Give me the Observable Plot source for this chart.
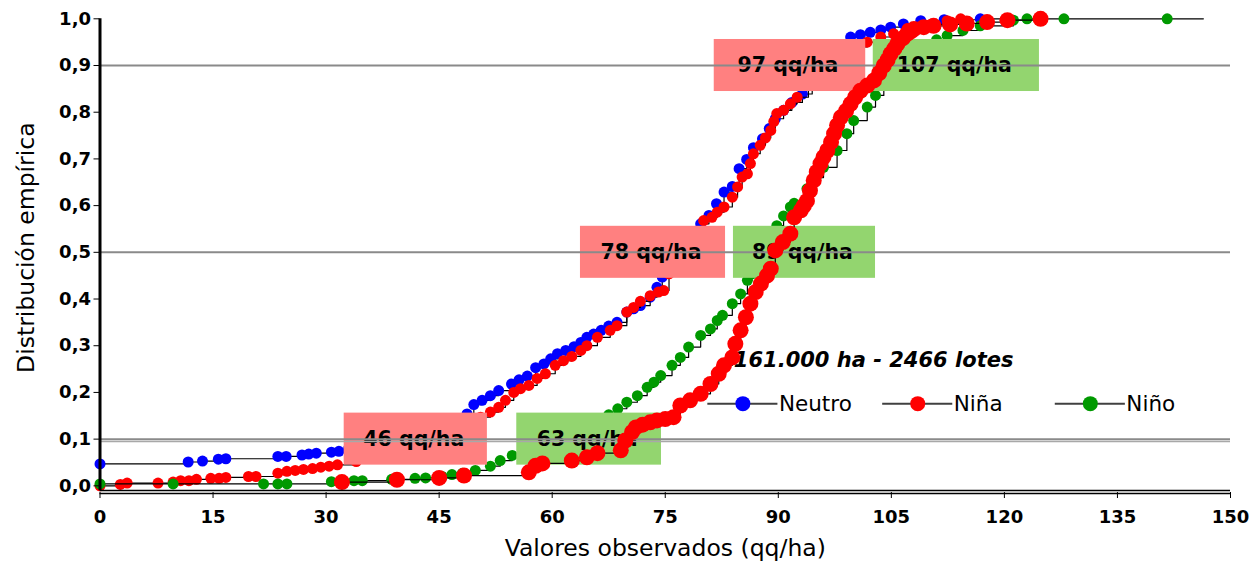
<!DOCTYPE html>
<html>
<head>
<meta charset="utf-8">
<script src="https://cdn.jsdelivr.net/npm/d3@7"></script>
<script src="https://cdn.jsdelivr.net/npm/@observablehq/plot@0.6"></script>
<style>
  html, body { margin: 0; padding: 0; background: #ffffff; }
  #chart { width: 1254px; height: 565px; }
</style>
</head>
<body>
<div id="chart"></div>
<script>
// ---- Data ----
const xTicks = [0, 15, 30, 45, 60, 75, 90, 105, 120, 135, 150];
const yTicks = [0, 0.1, 0.2, 0.3, 0.4, 0.5, 0.6, 0.7, 0.8, 0.9, 1.0];
const quantileLines = [0.1, 0.5, 0.9];

const seriesNames = ["Neutro", "Niña", "Niño"];
const seriesColors = ["#0000ff", "#ff0000", "#009900"];

// Neutro: [valor observado (qq/ha), distribución empírica]
const neutro = [[0,0.047],[11.7,0.051],[13.6,0.053],[15.7,0.057],[16.7,0.058],[23.6,0.063],[24.7,0.063],[26.8,0.066],[27.7,0.068],[28.7,0.070],[30.7,0.072],[31.7,0.074],[33,0.08],[35,0.087],[37,0.094],[39,0.102],[41,0.11],[43,0.12],[45,0.13],[47,0.143],[48.7,0.154],[49.6,0.174],[50.7,0.183],[51.8,0.193],[52.9,0.204],[54.6,0.218],[55.6,0.227],[56.7,0.235],[57.8,0.253],[58.9,0.261],[59.8,0.272],[60.7,0.283],[61.8,0.290],[62.9,0.298],[63.8,0.307],[64.6,0.318],[65.5,0.325],[66.5,0.333],[67.5,0.342],[68.6,0.350],[69.9,0.372],[70.8,0.379],[71.7,0.386],[73.0,0.404],[73.9,0.425],[74.6,0.447],[75.5,0.46],[76.5,0.48],[77.5,0.5],[78.5,0.525],[79.7,0.561],[80.8,0.579],[81.8,0.604],[82.8,0.629],[83.9,0.641],[84.8,0.679],[85.8,0.699],[86.7,0.724],[87.9,0.743],[88.8,0.765],[89.6,0.786],[90.7,0.804],[91.8,0.821],[93.2,0.839],[94.5,0.865],[96,0.895],[97.5,0.92],[98.5,0.94],[99.6,0.961],[100.9,0.966],[102.2,0.971],[103.6,0.976],[104.9,0.982],[106.6,0.989],[108.9,0.996],[112,0.998],[116.8,1.0],[120.4,1.0]];

// Niña (curva junto a Neutro)
const ninaA = [[0,0],[2.7,0.003],[3.6,0.006],[7.7,0.006],[9.7,0.008],[10.7,0.011],[11.8,0.011],[12.8,0.014],[14.7,0.016],[15.8,0.016],[16.7,0.018],[19.7,0.02],[20.7,0.02],[23.6,0.027],[24.8,0.031],[25.9,0.033],[27,0.035],[28.2,0.037],[29.3,0.04],[30.4,0.042],[31.5,0.045],[34,0.052],[37,0.062],[40,0.075],[43,0.088],[46,0.1],[48,0.12],[49.3,0.135],[50.5,0.147],[51.8,0.158],[52.9,0.168],[53.8,0.183],[54.9,0.2],[55.8,0.208],[56.9,0.215],[58,0.23],[59.1,0.24],[60.4,0.258],[61.5,0.268],[62.6,0.277],[63.8,0.29],[64.6,0.3],[66,0.318],[67.7,0.333],[68.6,0.343],[69.9,0.372],[70.8,0.382],[71.7,0.395],[73,0.407],[74.1,0.415],[74.8,0.418],[75.5,0.454],[76.5,0.47],[77.5,0.49],[78.5,0.51],[79.3,0.54],[80.1,0.568],[81.2,0.575],[81.9,0.586],[82.8,0.597],[83.9,0.618],[84.6,0.64],[85.2,0.661],[85.9,0.668],[86.3,0.69],[86.7,0.711],[87.6,0.729],[88.3,0.745],[89,0.761],[89.4,0.78],[89.8,0.797],[90.7,0.804],[91.6,0.818],[92.5,0.832],[94,0.86],[95.5,0.885],[97,0.9],[98.5,0.92],[100,0.94],[101.8,0.95],[103.6,0.961],[105.3,0.968],[107.1,0.979],[110.2,0.988],[112.4,0.996],[114.2,1.0]];

// Niño
const nino = [[0,0.004],[9.7,0.004],[21.7,0.004],[23.6,0.004],[24.8,0.004],[30.7,0.009],[33.7,0.011],[34.8,0.011],[38.7,0.014],[41.8,0.016],[43.2,0.017],[45.4,0.02],[46.7,0.024],[48.1,0.027],[49.8,0.033],[51.8,0.042],[53.1,0.054],[54.7,0.065],[57,0.072],[59,0.08],[61,0.09],[63,0.1],[65,0.12],[66.5,0.14],[67.5,0.152],[68.7,0.165],[69.9,0.179],[71.3,0.193],[72.6,0.211],[73.5,0.222],[74.4,0.236],[75.9,0.258],[77,0.275],[78.1,0.297],[79.7,0.322],[81,0.336],[81.9,0.354],[82.6,0.365],[83.9,0.39],[85,0.411],[85.9,0.44],[86.5,0.454],[87.5,0.475],[88.5,0.5],[89.8,0.557],[90.7,0.578],[91.6,0.597],[92.1,0.605],[93.8,0.636],[95,0.66],[96,0.682],[97.8,0.718],[99.1,0.754],[100,0.782],[101.8,0.811],[102.9,0.836],[104,0.865],[105.5,0.9],[107,0.92],[109,0.94],[111,0.955],[112.4,0.964],[114.5,0.975],[116.8,0.985],[121.2,0.997],[123,1.0],[127.9,1.0],[141.6,1.0]];
const ninoStepEnd = 146.4; // the Niño step line runs on past its last point

// Niña (curva junto a Niño)
const ninaB = [[32.1,0.008],[39.4,0.013],[45,0.017],[48.3,0.022],[56.9,0.029],[57.8,0.043],[58.7,0.048],[62.6,0.054],[64.6,0.061],[66,0.07],[69.1,0.076],[69.7,0.097],[70.6,0.115],[71.1,0.125],[72,0.131],[73,0.136],[73.9,0.14],[75,0.143],[76.1,0.147],[77,0.172],[78.3,0.183],[79.7,0.197],[81,0.218],[82.1,0.24],[82.8,0.258],[83.9,0.275],[84.3,0.304],[85,0.333],[85.7,0.361],[86.3,0.39],[87,0.415],[87.7,0.433],[88.5,0.45],[89,0.465],[89.6,0.504],[90.6,0.522],[91.6,0.54],[92.1,0.575],[93,0.59],[93.4,0.6],[93.8,0.61],[94.2,0.632],[94.7,0.654],[95.1,0.672],[95.6,0.69],[96,0.704],[96.5,0.718],[97,0.736],[97.4,0.754],[97.8,0.772],[98.3,0.789],[99,0.803],[99.6,0.818],[100.2,0.832],[100.9,0.846],[101.8,0.857],[102.7,0.868],[103.4,0.884],[104,0.9],[104.5,0.912],[104.9,0.925],[105.4,0.936],[105.8,0.946],[106.5,0.958],[107.1,0.968],[107.6,0.973],[108,0.978],[109.3,0.982],[110.6,0.985],[112.8,0.988],[115,0.99],[117.7,0.993],[120.4,0.997],[124.8,1.0]];

// Quantile labels
const labelsNina = [["46 qq/ha", 0.1], ["78 qq/ha", 0.5], ["97 qq/ha", 0.9]];
const labelsNino = [["63 qq/ha", 0.1], ["89 qq/ha", 0.5], ["107 qq/ha", 0.9]];
const note = "161.000 ha - 2466 lotes";
const xTitle = "Valores observados (qq/ha)";
const yTitle = "Distribución empírica";

// ---- Layout (placement of annotation boxes, legend) ----
const boxSpanNina = [[32.4, 51.4], [63.75, 83.0], [81.5, 101.6]];
const boxSpanNino = [[55.3, 74.5], [84.05, 102.9], [102.6, 124.65]];
const boxHalfH = 0.0557;
const legendX = [85.3, 108.5, 131.4];
const legendHalfW = 4.65;
const legendY = 0.176;
const noteX = 84.1, noteY = 0.268;

const FONT = "'DejaVu Sans', sans-serif";
const fmt = d => d.toFixed(1).replace(".", ",");
const toObj = (arr) => arr.map(([x, p]) => ({x, p}));

const boxes = (labels, spans) => labels.map(([t, q], i) => ({
  t, q, x1: spans[i][0], x2: spans[i][1], y1: q - boxHalfH, y2: q + boxHalfH
}));
const boxesA = boxes(labelsNina, boxSpanNina);
const boxesB = boxes(labelsNino, boxSpanNino);
const legend = seriesNames.map((name, i) => ({name, color: seriesColors[i], x: legendX[i]}));

const seriesMarks = (data, color, r, stepEnd) => {
  const pts = toObj(data);
  const linePts = stepEnd != null ? [...pts, {x: stepEnd, p: pts[pts.length - 1].p}] : pts;
  return [
    Plot.line(linePts, {x: "x", y: "p", curve: "step-after", stroke: "#000", strokeWidth: 1.2}),
    Plot.dot(pts, {x: "x", y: "p", r, fill: color, stroke: "none"})
  ];
};

const chart = Plot.plot({
  width: 1254, height: 565,
  marginLeft: 99.5, marginRight: 24, marginTop: 18.3, marginBottom: 75,
  x: {domain: [0, 150]},
  y: {domain: [-0.01, 1]},
  style: {fontFamily: FONT, background: "#ffffff", color: "#000"},
  marks: [
    Plot.text([note], {x: noteX, y: noteY, text: d => d, textAnchor: "start", fontSize: 21, fontWeight: "bold", fontStyle: "italic", fontFamily: FONT}),
    ...seriesMarks(neutro, seriesColors[0], 5.5),
    ...seriesMarks(ninaA, seriesColors[1], 5.5),
    ...seriesMarks(nino, seriesColors[2], 5.5, ninoStepEnd),
    Plot.rect(boxesA, {x1: "x1", x2: "x2", y1: "y1", y2: "y2", fill: "#ff8080"}),
    Plot.rect(boxesB, {x1: "x1", x2: "x2", y1: "y1", y2: "y2", fill: "#93d56f"}),
    Plot.text([...boxesA, ...boxesB], {x: d => (d.x1 + d.x2) / 2, y: "q", text: "t", dx: -2, fontSize: 20.5, fontWeight: "bold", fontFamily: FONT, fill: "#000", lineAnchor: "middle"}),
    Plot.ruleY(quantileLines, {x1: 0, x2: 150, stroke: "#8a8a8a", strokeWidth: 2}),
    Plot.ruleY([0.095], {x1: 0, x2: 150, stroke: "#a8a8a8", strokeWidth: 1.5}),
    ...seriesMarks(ninaB, seriesColors[1], 8),
    // axes
    Plot.ruleX([0], {y1: -0.01, y2: 1, stroke: "#000", strokeWidth: 3}),
    Plot.ruleY([-0.01, -0.0165], {x1: 0, x2: 150, stroke: "#000", strokeWidth: 1.6}),
    Plot.axisY({ticks: yTicks, tickFormat: fmt, tickSize: 6, tickPadding: 3, fontSize: 18, fontWeight: "bold", fontFamily: FONT, label: null}),
    Plot.axisX({ticks: xTicks, tickFormat: d => String(d), tickSize: 6, tickPadding: 12, fontSize: 18, fontWeight: "bold", fontFamily: FONT, label: null, dy: 2}),
    Plot.text([xTitle], {frameAnchor: "bottom", dy: 58, text: d => d, fontSize: 23.5, fontFamily: FONT, textAnchor: "middle", lineAnchor: "middle"}),
    Plot.text([yTitle], {frameAnchor: "left", dx: -74, dy: -7, rotate: -90, text: d => d, fontSize: 23.5, fontFamily: FONT, textAnchor: "middle", lineAnchor: "middle"}),
    // legend
    Plot.ruleY(legend, {x1: d => d.x - legendHalfW, x2: d => d.x + legendHalfW, y: () => legendY, stroke: "#404040", strokeWidth: 2}),
    Plot.dot(legend, {x: "x", y: () => legendY, r: 7.5, fill: "color", stroke: "none"}),
    Plot.text(legend, {x: d => d.x + legendHalfW, y: () => legendY, text: "name", textAnchor: "start", dx: 1, fontSize: 21.5, fontFamily: FONT, fill: "#000", lineAnchor: "middle"})
  ]
});
document.getElementById("chart").appendChild(chart);
</script>
</body>
</html>
